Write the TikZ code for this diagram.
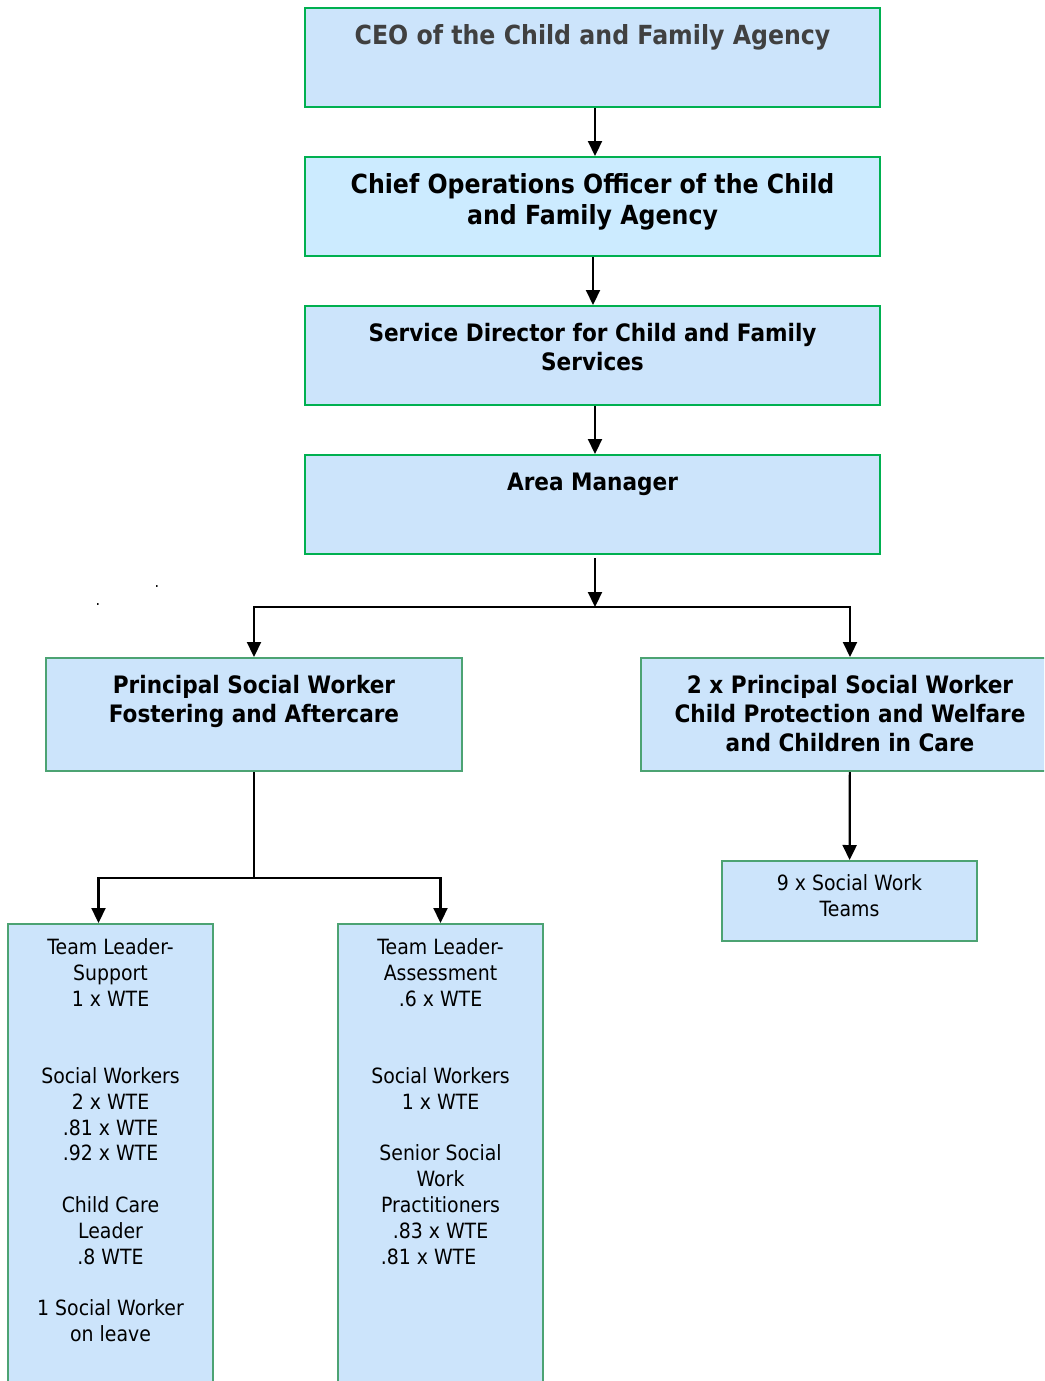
\documentclass[tikz,border=0pt]{standalone}
\usepackage{fontspec}
\setmainfont{DejaVu Sans}[FakeStretch=0.9]
\usetikzlibrary{positioning, arrows.meta}
\definecolor{boxfill}{HTML}{CCE4FB}
\definecolor{coofill}{HTML}{CCEBFF}
\definecolor{topgreen}{HTML}{00B050}
\definecolor{lowgreen}{HTML}{4CA373}
\definecolor{ceotext}{HTML}{404040}

\begin{document}
\begin{tikzpicture}[
		x=1pt, y=-1pt,
		% Styles
		box/.style={rectangle, draw=topgreen, line width=2pt, fill=boxfill, minimum width=575pt, minimum height=99pt},
		unitbox/.style={box, draw=lowgreen},
		head/.style={anchor=north, yshift=-15pt, align=center, font=\fontsize{24}{29}\selectfont\bfseries},
		bighead/.style={head, yshift=1pt, font=\fontsize{26.3}{31}\selectfont\bfseries},
		staff/.style={anchor=north, yshift=-12pt, align=center, font=\fontsize{21}{25.8}\selectfont},
		arrow/.style={-{Triangle[length=15pt, width=14pt]}, line width=2.2pt},
		line/.style={line width=2.2pt}
	]
	\useasboundingbox (0,0) rectangle (1044,1381);
	\clip (0,0) rectangle (1044,1381);

	% --- Management chain ---
	\node[box, anchor=north west, label={[bighead, text=ceotext]north:CEO of the Child and Family Agency}] (ceo) at (304,7) {};
	\node[box, fill=coofill, below=48pt of ceo, label={[bighead]north:Chief Operations Officer of the Child\\and Family Agency}] (coo) {};
	\node[box, below=48pt of coo, label={[head]north:Service Director for Child and Family\\Services}] (director) {};
	\node[box, below=48pt of director, label={[head]north:Area Manager}] (area_manager) {};

	% --- Principal social workers ---
	\node[unitbox, anchor=north west, minimum width=416pt, minimum height=113pt, label={[head]north:Principal Social Worker\\Fostering and Aftercare}] (psw_fostering) at (45,657) {};
	\node[unitbox, anchor=north west, minimum width=418pt, minimum height=113pt, label={[head]north:2 x Principal Social Worker\\Child Protection and Welfare\\and Children in Care}] (psw_protection) at (640,657) {};

	% --- Teams ---
	\node[unitbox, anchor=north west, minimum width=255pt, minimum height=80pt, label={[staff, yshift=1pt]north:9 x Social Work\\Teams}] (sw_teams) at (721,860) {};
	\node[unitbox, anchor=north west, minimum width=205pt, minimum height=480pt, label={[staff]north:Team Leader-\\Support\\1 x WTE\\[51.6pt]Social Workers\\2 x WTE\\.81 x WTE\\.92 x WTE\\[25.8pt]Child Care\\Leader\\.8 WTE\\[25.8pt]1 Social Worker\\on leave}] (tl_support) at (7,923) {};
	\node[unitbox, anchor=north west, minimum width=205pt, minimum height=480pt, label={[staff]north:Team Leader-\\Assessment\\.6 x WTE\\[51.6pt]Social Workers\\1 x WTE\\[25.8pt]Senior Social\\Work\\Practitioners\\.83 x WTE\\.81 x WTE\hspace*{24pt}}] (tl_assessment) at (337,923) {};

	% stray dots
	\node[inner sep=0pt, font=\fontsize{16}{16}\selectfont] (dot_a) at (157,587) {.};
	\node[inner sep=0pt, font=\fontsize{16}{16}\selectfont] (dot_b) at (98,605) {.};

	% --- ARROWS ---
	\coordinate (split_top) at (595,607);
	\coordinate (split_low) at (psw_fostering.south |- 0,878);

	\draw[arrow] (ceo.south -| 595,0) -- (coo.north -| 595,0);
	\draw[arrow] (coo.south -| 593,0) -- (director.north -| 593,0);
	\draw[arrow] (director.south -| 595,0) -- (area_manager.north -| 595,0);
	\draw[arrow] ([yshift=-3pt]area_manager.south -| 595,0) -- (split_top);

	\draw[arrow] (split_top) -| (psw_fostering);
	\draw[arrow] (split_top) -| (psw_protection);
	\draw[arrow] (psw_protection) -- (sw_teams);

	\draw[line] (psw_fostering) -- (split_low);
	\draw[arrow] (split_low) -| ([xshift=-12pt]tl_support.north);
	\draw[arrow] (split_low) -| (tl_assessment);

\end{tikzpicture}
\end{document}
